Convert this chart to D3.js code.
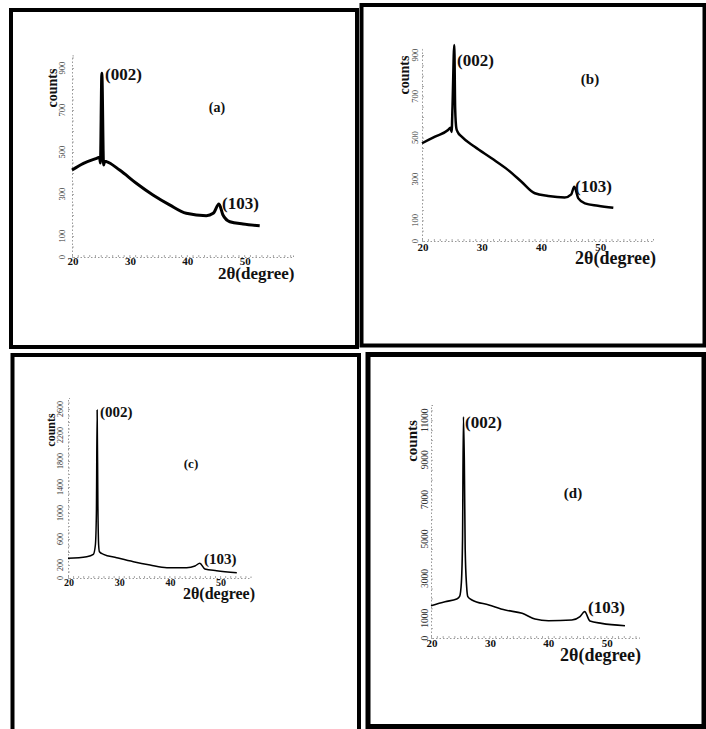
<!DOCTYPE html>
<meta charset="utf-8">
<script src="https://d3js.org/d3.v7.min.js"></script>
<style>
body { margin: 0; background: #fff; }
text { font-family: "Liberation Serif", "Times New Roman", serif; font-weight: bold; fill: #111; }
.axis path.domain { stroke: #999; stroke-dasharray: 1.5,2; }
.axis .tick line { stroke: #aaa; }
.frame { fill: none; stroke: #000; }
</style>
<body>
<script>
// panel (a)
var thetaA  = [20, 22, 24.3, 24.8, 24.95, 25.2, 25.5, 25.7, 26.0, 28.3, 31.2, 34.1, 37.0, 39.9, 43.4, 44.6, 45.6, 46.3, 47.5, 49.8, 52.7];
var countsA = [414, 446, 470, 475, 448, 875, 438, 456, 454, 414, 351, 295, 248, 208, 197, 208, 252, 200, 168, 157, 149];
var yTicksA = [0, 100, 300, 500, 700, 900];

// panel (b)
var thetaB  = [20, 22.2, 24.4, 24.8, 25.0, 25.15, 25.45, 25.6, 25.8, 26.0, 26.7, 28.9, 31.75, 34.55, 36.8, 39.05, 41.3, 44.1, 45.2, 45.7, 46.4, 47.5, 49.7, 52.3];
var countsB = [473, 505, 537, 548, 528, 650, 948, 640, 545, 529, 505, 456, 400, 343, 287, 231, 218, 211, 226, 263, 206, 182, 171, 161];
var yTicksB = [0, 100, 300, 500, 700, 900];

// panel (c)
var thetaC  = [20, 23.7, 25.0, 25.4, 25.6, 25.75, 25.9, 26.05, 26.2, 27.0, 29.6, 32.9, 36.2, 39.5, 43.4, 45.05, 46.0, 47.0, 49.3, 53.3];
var countsC = [303, 328, 364, 508, 1000, 2585, 1100, 500, 405, 364, 313, 251, 200, 159, 159, 185, 226, 138, 112, 82];
var yTicksC = [0, 200, 600, 1000, 1400, 1800, 2200, 2600];

// panel (d)
var thetaD  = [20, 22.4, 24.4, 24.9, 25.2, 25.4, 25.55, 25.7, 25.85, 26.1, 26.3, 27.0, 29.9, 32.7, 35.6, 37.8, 40.1, 44.1, 45.5, 46.3, 47.2, 49.2, 53.2];
var countsD = [1630, 1835, 1970, 2100, 2800, 5000, 11180, 9000, 4500, 2600, 2090, 1920, 1670, 1410, 1250, 960, 875, 910, 1080, 1330, 860, 740, 620];
var yTicksD = [0, 1000, 3000, 5000, 7000, 9000, 11000];

var xTicks = [20, 30, 40, 50];
var peakLabels = ["(002)", "(103)"];
var panelNames = ["(a)", "(b)", "(c)", "(d)"];

var svg = d3.select("body").append("svg")
  .attr("width", 706)
  .attr("height", 729);

var panels = [
  { theta: thetaA, counts: countsA, yTicks: yTicksA, name: panelNames[0],
    frame: [11, 10, 346, 337], sw: 4,
    xd: [20, 58.5], xr: [72, 293], yd: [0, 960], yr: [257, 55.4],
    yLabX: 62, xLabY: 265, xFs: 11, yFs: 8.5, lw: 3,
    counts_: [52, 88, 14], p1: [105, 80, 17], p2: [222, 209, 17], nm: [217, 112, 14], xl: [218, 279, 17] },
  { theta: thetaB, counts: countsB, yTicks: yTicksB, name: panelNames[1],
    frame: [361.5, 5, 343, 340.5], sw: 4,
    xd: [20, 59], xr: [422, 653], yd: [0, 930], yr: [241, 48.8],
    yLabX: 415, xLabY: 251, xFs: 11, yFs: 8.5, lw: 2.5,
    counts_: [404, 75, 14], p1: [457, 66, 17], p2: [575, 192, 17], nm: [590, 84, 15], xl: [575, 264, 18] },
  { theta: thetaC, counts: countsC, yTicks: yTicksC, name: panelNames[2],
    frame: [12.5, 355, 346.5, 390], sw: 4,
    xd: [20, 56], xr: [68, 250.5], yd: [0, 2770], yr: [578, 398],
    yLabX: 60, xLabY: 586, xFs: 10, yFs: 8, lw: 1.5,
    counts_: [51, 430, 12], p1: [100, 417, 15], p2: [204, 564, 15], nm: [191, 468, 13], xl: [183, 599, 16] },
  { theta: thetaD, counts: countsD, yTicks: yTicksD, name: panelNames[3],
    frame: [368, 354.5, 336, 372], sw: 5,
    xd: [20, 55.6], xr: [431, 639], yd: [0, 11770], yr: [638, 405],
    yLabX: 425, xLabY: 647, xFs: 11, yFs: 9.5, lw: 1.6,
    counts_: [412, 441, 15], p1: [465, 428, 17], p2: [588, 613, 17], nm: [573, 498, 15], xl: [560, 661, 18] }
];

panels.forEach(function(p) {
  var g = svg.append("g");

  g.append("rect").attr("class", "frame")
    .attr("x", p.frame[0]).attr("y", p.frame[1])
    .attr("width", p.frame[2]).attr("height", p.frame[3])
    .attr("stroke-width", p.sw);

  var x = d3.scaleLinear().domain(p.xd).range(p.xr);
  var y = d3.scaleLinear().domain(p.yd).range(p.yr);

  // dotted axes with small minor ticks
  g.append("g").attr("class", "axis")
    .attr("transform", "translate(0," + p.yr[0] + ")")
    .call(d3.axisBottom(x).tickValues(d3.range(20, p.xd[1], 1)).tickSize(-2).tickFormat(""));
  var step = (p.yd[1] > 5000) ? 500 : (p.yd[1] > 2000 ? 100 : 50);
  g.append("g").attr("class", "axis")
    .attr("transform", "translate(" + p.xr[0] + ",0)")
    .call(d3.axisLeft(y).tickValues(d3.range(0, p.yd[1], step)).tickSize(-2).tickFormat(""));

  // tick labels
  g.selectAll(".xl").data(xTicks).enter().append("text")
    .attr("x", d => x(d) + 1).attr("y", p.xLabY)
    .attr("text-anchor", "middle").style("font-size", p.xFs + "px")
    .text(d => d);
  g.selectAll(".yl").data(p.yTicks).enter().append("text")
    .attr("transform", d => "translate(" + p.yLabX + "," + y(d) + ") rotate(-90)")
    .attr("dy", "0.35em")
    .attr("text-anchor", "middle").style("font-size", p.yFs + "px")
    .style("fill", "#333").style("font-weight", "normal")
    .text(d => d);

  // pattern
  var line = d3.line().curve(d3.curveMonotoneX)
    .x((d, i) => x(p.theta[i])).y(d => y(d));
  g.append("path").datum(p.counts)
    .attr("d", line)
    .attr("fill", "none").attr("stroke", "#000")
    .attr("stroke-width", p.lw).attr("stroke-linejoin", "round");

  // labels
  g.append("text")
    .attr("transform", "translate(" + p.counts_[0] + "," + p.counts_[1] + ") rotate(-90)")
    .attr("dy", "0.35em").attr("text-anchor", "middle")
    .style("font-size", p.counts_[2] + "px").text("counts");
  g.append("text").attr("x", p.p1[0]).attr("y", p.p1[1])
    .style("font-size", p.p1[2] + "px").text(peakLabels[0]);
  g.append("text").attr("x", p.p2[0]).attr("y", p.p2[1])
    .style("font-size", p.p2[2] + "px").text(peakLabels[1]);
  g.append("text").attr("x", p.nm[0]).attr("y", p.nm[1])
    .attr("text-anchor", "middle")
    .style("font-size", p.nm[2] + "px").text(p.name);
  g.append("text").attr("x", p.xl[0]).attr("y", p.xl[1])
    .style("font-size", p.xl[2] + "px").text("2θ(degree)");
});
</script>
</body>
